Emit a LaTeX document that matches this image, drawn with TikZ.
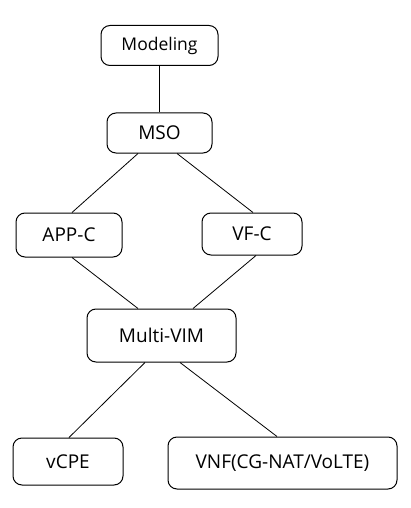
\documentclass[tikz,border=0pt]{standalone}
\usepackage{fontspec}
\setmainfont{Open Sans}
\usetikzlibrary{calc}
\begin{document}
\begin{tikzpicture}[x=1pt,y=-1pt,
  box/.style={draw,line width=1pt,rounded corners=9pt,inner sep=0pt,font=\fontsize{19}{22}\selectfont},
  link/.style={line width=0.8pt}]
\useasboundingbox[fill=white] (0,0) rectangle (410,508);
\node[box,minimum width=117pt,minimum height=40pt,font=\fontsize{17.5}{20}\selectfont] (model) at (159.5,45.5) {Modeling};
\node[box,minimum width=105pt,minimum height=40pt] (mso) at (159.5,133) {MSO};
\node[box,minimum width=106pt,minimum height=44pt] (appc) at (69,235) {APP-C};
\node[box,minimum width=100pt,minimum height=42pt] (vfc) at (252,234) {VF-C};
\node[box,minimum width=149pt,minimum height=53pt] (mvim) at (161.5,335.5) {Multi-VIM};
\node[box,minimum width=110pt,minimum height=47pt] (vcpe) at (68,461.5) {vCPE};
\node[box,minimum width=229pt,minimum height=52pt] (vnf) at (282.5,463) {VNF(CG-NAT/VoLTE)};
\draw[link] (model) -- (mso);
\draw[link] ($(mso.south)+(-21.5,0)$) -- ($(appc.north)+(3,0)$);
\draw[link] ($(mso.south)+(17.5,0)$) -- ($(vfc.north)+(1,0)$);
\draw[link] ($(appc.south)+(3,0)$) -- ($(mvim.north)+(-23.5,0)$);
\draw[link] ($(vfc.south)+(4,0)$) -- ($(mvim.north)+(31.5,0)$);
\draw[link] ($(mvim.south)+(-16.5,0)$) -- ($(vcpe.north)+(1,0)$);
\draw[link] ($(mvim.south)+(18.5,0)$) -- ($(vnf.north)+(-5.5,0)$);
\end{tikzpicture}
\end{document}
